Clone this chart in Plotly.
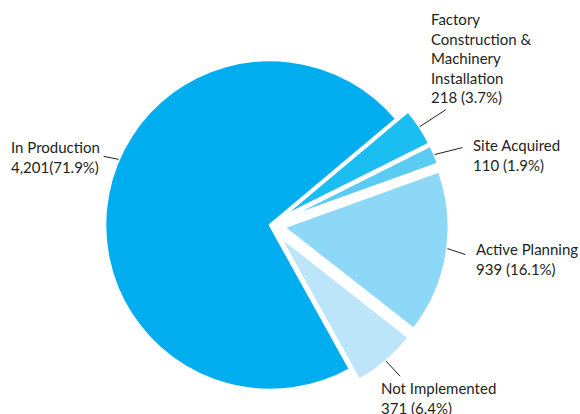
import math
import plotly.graph_objects as go

# Project status counts, listed clockwise starting at the upper right
categories = [
    "Factory<br>Construction &<br>Machinery<br>Installation",
    "Site Acquired",
    "Active Planning",
    "Not Implemented",
    "In Production",
]
counts = [218, 110, 939, 371, 4201]
separators = [" ", " ", " ", " ", ""]
colors = ["#1BBEF0", "#5ACCF4", "#8DD7F7", "#BCE5F9", "#00AEEF"]
pulls = [0.085, 0.085, 0.085, 0.085, 0.0]

W, H = 580, 414
ROTATION = 50
DOMAIN_X = [0.1569, 0.7741]
DOMAIN_Y = [0.0242, 0.8889]

total = sum(counts)
shares = [c / total * 100 for c in counts]

fig = go.Figure(
    go.Pie(
        labels=[c.replace("<br>", " ") for c in categories],
        values=counts,
        sort=False,
        direction="clockwise",
        rotation=ROTATION,
        pull=pulls,
        marker=dict(colors=colors, line=dict(color="white", width=2.5)),
        textinfo="none",
        hoverinfo="label+value+percent",
        domain=dict(x=DOMAIN_X, y=DOMAIN_Y),
        showlegend=False,
    )
)

# Pie geometry (pixels) following plotly's own sizing rule
box_w = (DOMAIN_X[1] - DOMAIN_X[0]) * W
box_h = (DOMAIN_Y[1] - DOMAIN_Y[0]) * H
r = min(box_w, box_h) / (2 + 2 * max(pulls))
cx = W * (DOMAIN_X[0] + DOMAIN_X[1]) / 2
cy = H * (1 - DOMAIN_Y[0]) - box_h / 2

# leader line: (position along slice arc as fraction, dx, dy) in px
leaders = [
    (0.5, 26, -17),
    (0.5, 28, -7),
    (0.47, 18, 6),
    (0.5, 14, 15),
    (0.55, -15, -3),
]
# label block top-left corner (px)
label_pos = [
    (429, 8),
    (471, 134),
    (474, 238),
    (379, 377),
    (9, 136),
]

shapes = []
annotations = []
start = ROTATION
for i, (cnt, sh) in enumerate(zip(counts, shares)):
    sweep = sh * 3.6
    mid = math.radians(start + sweep / 2)
    att = math.radians(start + sweep * leaders[i][0])
    ox = cx + pulls[i] * r * math.sin(mid)
    oy = cy - pulls[i] * r * math.cos(mid)
    ex = ox + r * math.sin(att)
    ey = oy - r * math.cos(att)
    dx, dy = leaders[i][1], leaders[i][2]
    shapes.append(dict(
        type="line", xref="paper", yref="paper",
        x0=ex / W, y0=1 - ey / H, x1=(ex + dx) / W, y1=1 - (ey + dy) / H,
        line=dict(color="#231F20", width=1),
    ))
    lx, ly = label_pos[i]
    annotations.append(dict(
        xref="paper", yref="paper", x=lx / W, y=1 - ly / H,
        xanchor="left", yanchor="top", align="left", showarrow=False,
        text=f"{categories[i]}<br>{cnt:,}{separators[i]}({sh:.1f}%)",
        font=dict(family="Lato", size=15, color="#231F20"),
    ))
    start += sweep

fig.update_layout(
    width=W, height=H,
    margin=dict(l=0, r=0, t=0, b=0),
    paper_bgcolor="white", plot_bgcolor="white",
    shapes=shapes, annotations=annotations,
)

fig.write_html("out.html")
